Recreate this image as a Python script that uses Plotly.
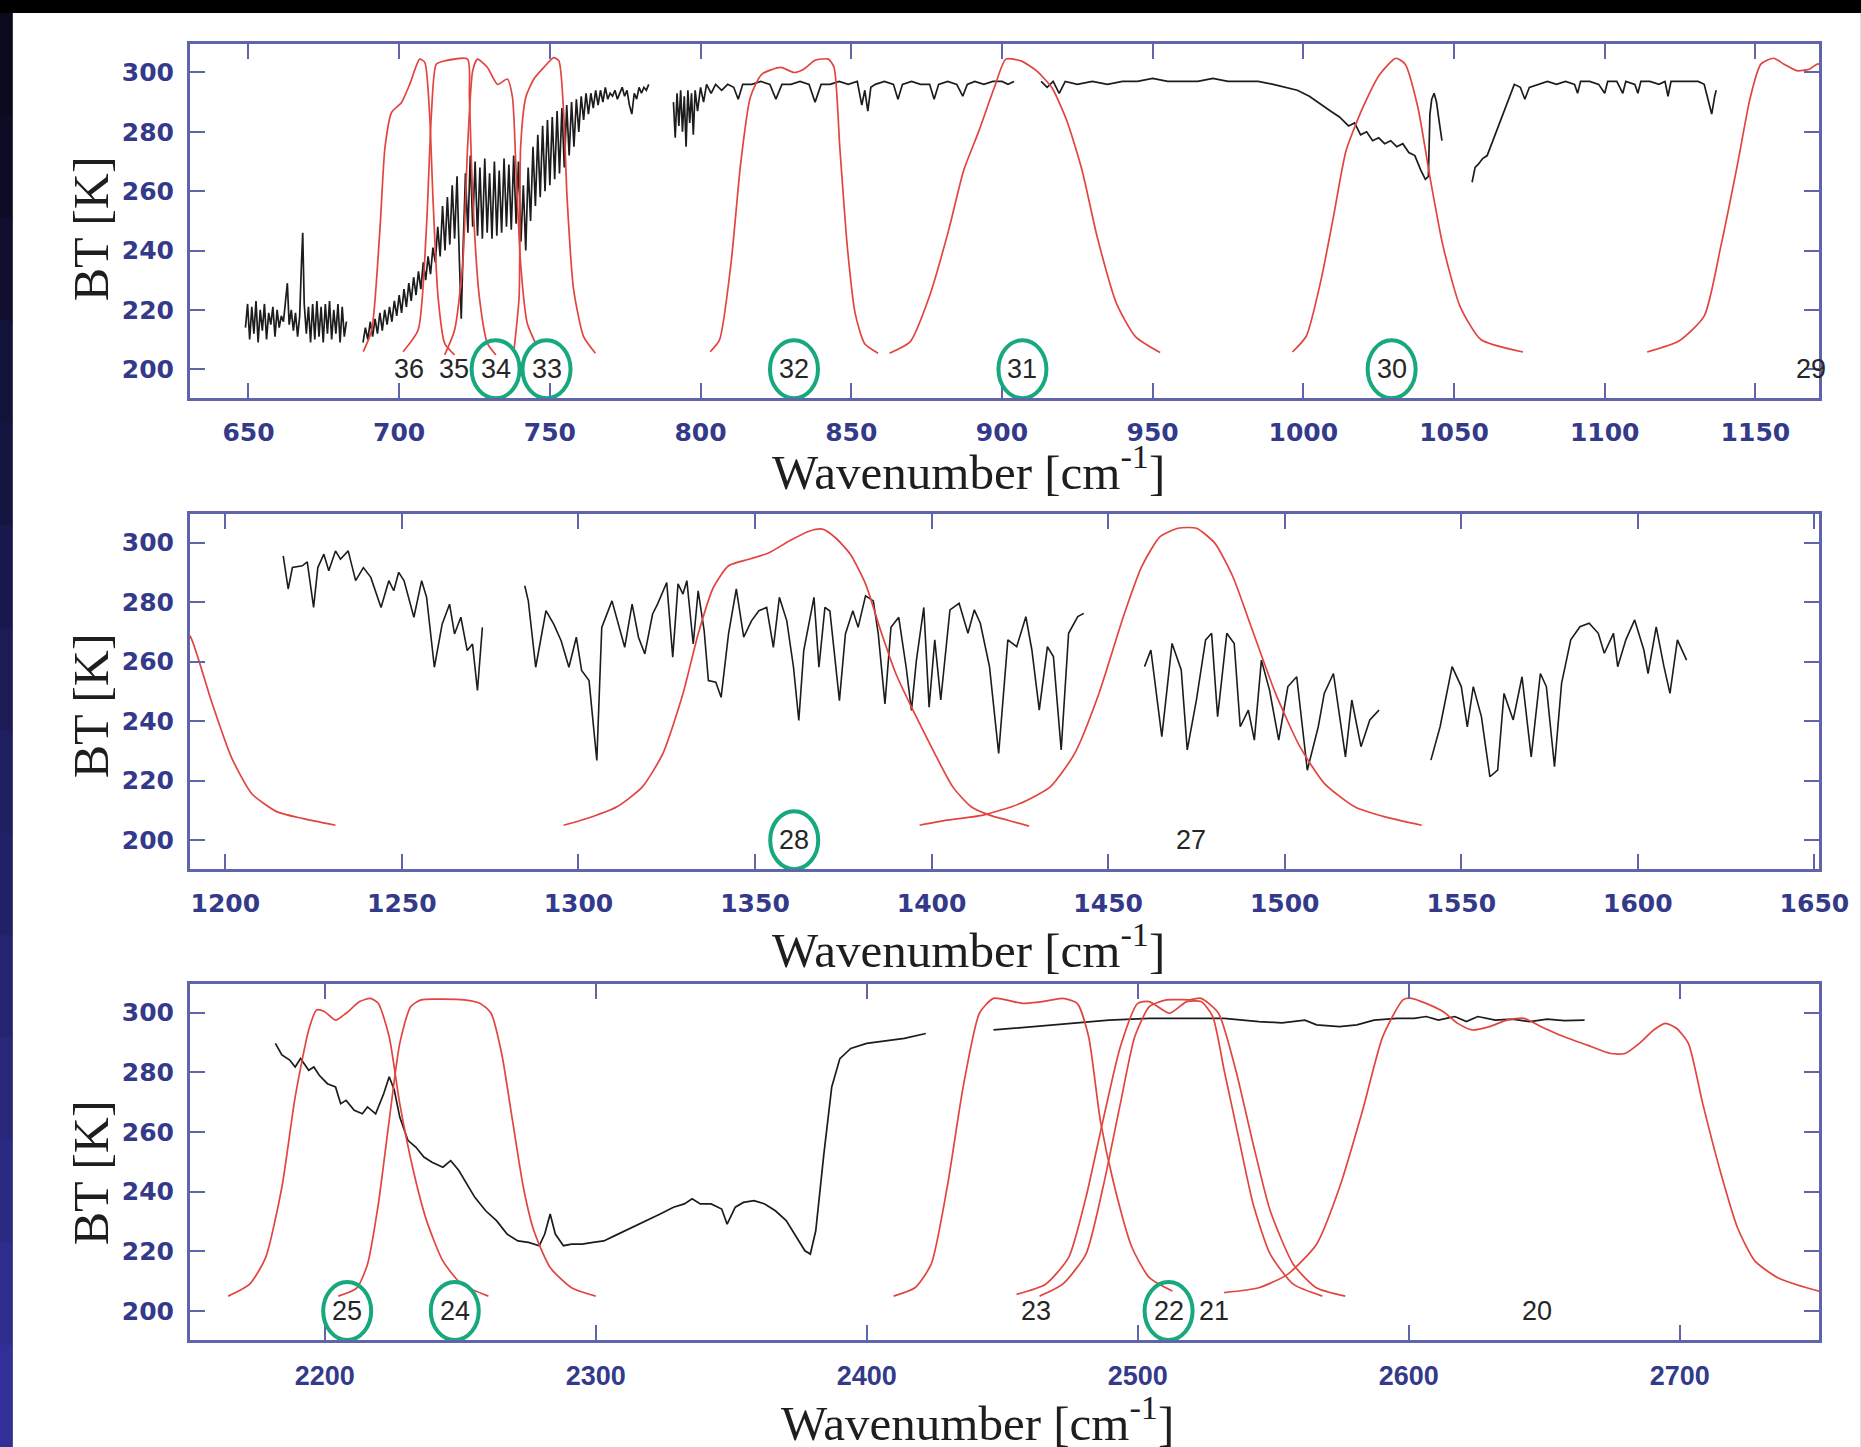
import plotly.graph_objects as go

W, H = 1861, 1447
ML, MR, MT, MB = 190, 37, 44, 107

FRAME = "#5f64ab"
TICKC = "#343a8a"
RED = "#e2453f"
BLACK = "#1c1c1c"
GREEN = "#17a87e"

# ---------------- axis ticks ----------------
P1_XTICKS = [650, 700, 750, 800, 850, 900, 950, 1000, 1050, 1100, 1150]
P2_XTICKS = [1200, 1250, 1300, 1350, 1400, 1450, 1500, 1550, 1600, 1650]
P3_XTICKS = [2200, 2300, 2400, 2500, 2600, 2700]
Y_TICKS = [200, 220, 240, 260, 280, 300]

# ---------------- panel 1 : measured spectrum (black) ----------------
P1_SPEC_A = [(649,214),(649.7,222),(650.4,210),(651.1,221),(651.8,212),(652.5,223),(653.2,209),(653.9,220),
             (654.6,213),(655.3,222),(656,210),(656.7,219),(657.4,215),(658.1,221),(658.8,211),(659.5,220),
             (660.2,214),(660.9,218),(661.6,216),(662.3,222),(662.9,229),(663.5,215),(664.2,220),(664.9,213),
             (665.6,219),(666.3,211),(667,218),(667.6,236),(668,246),(668.5,222),(669.2,212),(669.9,221),
             (670.6,209),(671.3,222),(672,210),(672.7,223),(673.4,211),(674.1,221),(674.8,209),(675.5,222),
             (676.2,212),(676.9,223),(677.6,210),(678.3,220),(679,212),(679.7,222),(680.4,209),(681.1,221),
             (681.8,211),(682.5,216)]
P1_SPEC_B = [(688.0,209),(688.8,214),(689.6,210),(690.4,216),(691.2,211),(692.0,217),(692.8,212),(693.6,219),
             (694.4,213),(695.2,220),(696.0,215),(696.8,221),(697.6,216),(698.4,223),(699.2,218),(700.0,225),
             (700.8,219),(701.6,227),(702.4,221),(703.2,229),(704.0,223),(704.8,231),(705.6,225),(706.4,233),
             (707.2,227),(708.0,236),(708.8,230),(709.6,238),(710.4,232),(711.2,241),(712.0,236),(712.8,248),
             (713.6,238),(714.4,255),(715.2,240),(716.0,258),(716.8,242),(717.6,262),(718.4,244),(719.2,265),
             (720.0,236),(720.6,217),(721.2,240),(722.0,266),(722.8,246),(723.6,272),(724.4,248),(725.2,270),
             (726.0,245),(726.8,268),(727.6,244),(728.4,271),(729.2,246),(730.0,266),(730.8,244),(731.6,270),
             (732.4,245),(733.2,267),(734.0,246),(734.8,271),(735.6,248),(736.4,269),(737.2,247),(738.0,272),
             (738.8,249),(739.6,270),(740.4,243),(741.2,262),(742.0,240),(742.8,268),(743.6,250),(744.4,275),
             (745.2,255),(746.0,279),(746.8,258),(747.6,282),(748.4,260),(749.2,284),(750.0,262),(750.8,285),
             (751.6,264),(752.4,287),(753.2,266),(754.0,288),(754.8,268),(755.6,289),(756.4,272),(757.2,290),
             (758.0,275),(758.8,291),(759.6,280),(760.4,292),(761.2,284),(762.0,293),(762.8,286),(763.6,293),
             (764.4,288),(765.2,294),(766.0,289),(766.8,294),(767.6,290),(768.4,295),(769.2,291),(770.0,293),
             (770.8,292),(771.6,294),(772.4,291),(773.2,293),(774.0,295),(774.8,292),(775.6,294),(776.4,289),
             (777.2,286),(778.0,293),(778.8,291),(779.6,295),(780.4,293),(781.2,295),(782.0,294),(782.8,296)]
P1_SPEC_C = [(791,290),(791.6,278),(792.2,293),(792.8,282),(793.4,294),(794,280),(794.6,292),(795.2,275),
             (795.8,294),(796.4,283),(797,293),(797.6,279),(798.2,294),(799,287),(800,295),(801,290),(802,296),
             (803.5,293),(805,296),(807,294),(809,296),(811,295),(812.5,291),(814,296),(817,296),(820,297),
             (823,296),(825,291),(827,296),(830,296),(833,297),(836,296),(838,290),(840,296),(843,296),
             (846,297),(849,296),(852,297),(853.5,289),(854.5,294),(855.5,287),(856.5,295),(858,296),(861,297),
             (864,296),(865.5,291),(867,296),(870,297),(873,296),(876,296),(877.5,291),(879,296),(882,297),
             (885,296),(887,292),(888.5,296),(891,297),(894,296),(897,297),(900,297),(902,296),(904,297)]
P1_SPEC_D = [(913,297),(915,295),(917,297),(919,293),(921,297),(925,296),(930,297),(935,296),(940,297),
             (945,297),(950,298),(955,297),(960,297),(965,297),(970,298),(975,297),(980,297),(985,297),
             (990,296),(994,295),(998,294),(1002,292),(1006,289),(1009,287),(1012,285),(1015,282),(1017,283),
             (1019,279),(1021,280),(1023,277),(1025,278),(1027,276),(1029,277),(1031,275),(1033,276),(1035,273),
             (1037,272),(1039,267),(1040.5,264),(1041.5,265),(1042,286),(1042.6,291),(1043.4,293),(1044.2,290),
             (1045,284),(1046,277)]
P1_SPEC_E = [(1056,263),(1057,268),(1058,269),(1059.5,271),(1061,272),(1062.5,276),(1064,280),(1065.5,284),
             (1067,288),(1068.5,292),(1070,296),(1072,295),(1073.5,291),(1075,295),(1078,296),(1081,297),
             (1084,296),(1087,297),(1090,296),(1091,293),(1092,297),(1095,297),(1098,296),(1100,293),(1101,297),
             (1104,297),(1106,293),(1107,297),(1110,296),(1111,293),(1112,297),(1115,297),(1118,296),(1120,297),
             (1121,292),(1122,297),(1125,297),(1128,297),(1131,297),(1133,296),(1134.5,290),(1135.5,286),
             (1136.5,292),(1137,294)]

# ---------------- panel 1 : spectral response functions (red) ----------------
P1_SRF_36 = [(688.1,205.9),(690.9,213.2),(693.6,246.8),(695.3,274.8),(697.5,286.6),(700.8,289.9),(703.5,296),
             (706.8,304.5),(708.5,303.4),(710.1,286),(711.2,258),(712.9,224.4),(715.1,208.7),(718.4,204.8)]
P1_SRF_35 = [(701.3,205.9),(706.3,213.2),(709,246.8),(710.7,286),(712.3,302.8),(715.1,303.9),(722.7,304.5),
             (723.3,291.6),(724.4,258),(726.6,224.4),(729.3,208.7),(732.1,204.8)]
P1_SRF_34 = [(715.1,204.8),(718.4,213.2),(721.1,235.6),(722.7,274.8),(724.4,300.6),(726,304.5),(729.3,301.7),
             (732.6,296),(735.9,297.8),(737.6,291.6),(738.7,269.2),(740.3,235.6),(742.5,215.5),(745.3,208.7)]
P1_SRF_33 = [(738.1,206.5),(739.8,224.4),(740.3,274.8),(742,291.6),(744.7,297.8),(748,301.7),(751.3,305),
             (753,303.9),(754.6,286),(755.7,258),(757.9,226.7),(761.2,211),(765.1,205.4)]
P1_SRF_32 = [(803.2,205.9),(806.3,209.9),(810.1,235.6),(813.3,269.2),(816.5,291.6),(820.3,299.4),(826.6,301.7),
             (831,300),(834.2,301.1),(838,304.1),(842.4,304.5),(844.3,301.7),(846.2,274.8),(848.7,241.2),
             (851.3,218.8),(854.4,208.7),(858.9,205.4)]
P1_SRF_31 = [(862.7,205.4),(869.6,209.3),(875.9,224.4),(882.3,246.8),(887.3,267),(892.4,280.4),(897.5,295),
             (901.3,304.5),(906.3,303.9),(911.4,300.6),(916.5,295),(921.5,283.8),(926.6,267),(931.6,244.6),
             (938,222.2),(944.3,211),(952.5,205.6)]
P1_SRF_30 = [(996.4,205.8),(1001,211.2),(1005.9,230.2),(1010,251.4),(1014.2,273.7),(1019.8,288.3),(1025.4,299.4),
             (1030.7,304.8),(1033.8,302.8),(1038,288.3),(1042.2,263.7),(1046.4,241.3),(1052,221.2),(1058.9,210),
             (1072.9,205.8)]
P1_SRF_29 = [(1114.1,205.8),(1124.6,209.5),(1133,217.9),(1138.5,241.3),(1144.1,269.3),(1148.3,291.6),
             (1151.8,302.8),(1156,304.8),(1159.5,302.8),(1163.7,300.6),(1167.9,301.1),(1170.4,302.8),(1172,303)]

# ---------------- panel 2 ----------------
P2_SPEC_A = [(1216.4,295.5),(1217.8,284.4),(1219,291.6),(1221.8,292.2),(1223.2,293.5),(1225,278.2),(1226.2,291.6),
             (1227.9,296.1),(1229.3,290.5),(1231.2,297.2),(1232.6,294.4),(1234.8,297.2),(1236.9,287.2),
             (1239.1,291.6),(1241.2,288.3),(1244.1,278.2),(1246.3,287.2),(1247.7,283.8),(1249.1,290),
             (1250.6,287.2),(1253.4,274.9),(1255.6,287.2),(1257,281.6),(1259.2,258.1),(1261.4,272.6),
             (1263.5,279.3),(1264.9,269.3),(1266.7,274.9),(1268.5,263.7),(1270,265.9),(1271.4,250.3),(1272.8,271.5)]
P2_SPEC_B = [(1284.8,285.5),(1285.8,280.4),(1287.9,258.1),(1290.8,277.1),(1293,272.6),(1295.1,267),(1297.3,258.1),
             (1299.4,268.2),(1300.9,257),(1303,253.6),(1305.2,226.8),(1306.6,271.5),(1309.5,280.4),(1311.6,271.5),
             (1313.1,264.8),(1315.2,279.3),(1317,268.2),(1318.8,262.6),(1321,276),(1322.4,279.3),(1325,286.6),
             (1326.7,261.5),(1328.2,286.1),(1329.6,282.7),(1330.7,287.2),(1332.5,265.9),(1333.9,283.8),
             (1335.6,270.4),(1336.8,253.6),(1338.9,253.1),(1340.4,248),(1342.5,269.3),(1344.7,284.4),
             (1346.8,268.2),(1349,273.7),(1351.1,277.1),(1353.3,278.2),(1355.2,264.8),(1356.9,281.6),
             (1359,273.7),(1360.9,258.1),(1362.4,240.2),(1363.8,263.7),(1366.7,281.6),(1368.1,258.1),
             (1369.8,278.2),(1371.2,277),(1373.9,246.9),(1375.6,269.3),(1377.7,277.1),(1379.2,271.5),
             (1381.3,282.1),(1383.5,280.4),(1384.9,269.3),(1386.8,245.8),(1388.5,271.5),(1390.7,274.9),
             (1392.8,258.1),(1394.3,243.6),(1395.7,260.4),(1397.8,278.2),(1399.3,244.7),(1400.9,267.3),
             (1402.6,247.1),(1405.2,277.4),(1407.8,279.6),(1410.3,269.5),(1412.1,277.4),(1413.8,272.9),
             (1416.4,258.3),(1419,229.1),(1421.6,267.3),(1424.1,265),(1426.7,275.1),(1428.4,263.9),
             (1430.5,243.7),(1432.8,265),(1434.5,261.7),(1436.7,230.3),(1438.8,269.5),(1441.4,275.1),(1443.1,276.2)]
P2_SPEC_C = [(1460.3,258.3),(1462.1,263.9),(1465.2,234.8),(1468.1,266.1),(1470.7,257.2),(1472.4,230.3),
             (1475,247.1),(1477.6,267.3),(1479.3,269.5),(1481,241.5),(1483.6,269.5),(1485.7,266.1),(1487.4,238.1),
             (1489.7,243.7),(1491.4,233.6),(1493.4,260.5),(1495.7,250.4),(1498.3,233.6),(1500.9,251.6),
             (1503.4,254.9),(1506.4,223.5),(1509.5,238.1),(1511.2,249.3),(1513.8,256),(1515.5,242),(1517.2,228),
             (1519,247.1),(1521.6,231.4),(1524.1,240.4),(1526.7,243.7)]
P2_SPEC_D = [(1541.4,226.9),(1544,238.1),(1547.4,258.3),(1550,251.6),(1551.7,238.1),(1553.4,251.6),(1555.7,241.5),
             (1558.1,221.3),(1560.3,223.5),(1562.1,249.3),(1564.7,240.4),(1567.2,254.9),(1569.8,228),(1572.4,256),
             (1574.1,251.6),(1576.4,224.7),(1578.4,252.7),(1581,267.3),(1583.6,271.7),(1586.2,272.9),
             (1588.8,269.5),(1590.5,262.8),(1593.1,269.5),(1594.3,258.3),(1596.6,267.3),(1599.1,274),
             (1601.7,263.9),(1602.9,256),(1605.2,271.7),(1607.4,258.3),(1609.1,249.3),(1611.2,267.3),(1613.8,260.5)]

P2_SRF_29 = [(1188,271),(1190.2,268.2),(1196,246.9),(1201.7,227.9),(1207.5,215.6),(1214.7,209.5),(1221.8,207.3),
             (1231.2,205)]
P2_SRF_28 = [(1295.8,205),(1303.7,207.8),(1310.9,211.2),(1318.1,217.9),(1323.9,229.1),(1329.6,249.2),
             (1333.9,269.3),(1338.2,284.9),(1342.5,292.2),(1348.3,294.4),(1354,296.6),(1359.8,300.6),
             (1365.5,303.9),(1369.1,304.5),(1372.7,301.7),(1377,296.1),(1381.3,286.1),(1385.6,270.4),
             (1389.9,255.9),(1394.3,244.7),(1400.9,229.1),(1406,217.9),(1411.2,211.2),(1416.4,208.4),
             (1421.6,206.7),(1427.6,204.7)]
P2_SRF_27 = [(1396.6,205),(1404.3,206.7),(1414.7,208.4),(1425,212.3),(1433.6,217.9),(1440.5,229.1),(1447.4,249.3),
             (1454.3,275.1),(1459.5,291.9),(1464.7,302),(1469.8,304.8),(1475,304.8),(1480.2,299.8),(1485.3,288.6),
             (1490.5,271.7),(1497.4,249.3),(1504.3,231.4),(1511.2,219.1),(1519.8,211.2),(1528.4,207.8),(1538.8,205)]

# ---------------- panel 3 ----------------
P3_SPEC_A = [(2181.8,289.7),(2184.2,285.8),(2187.1,284.1),(2189.1,281.8),(2191.1,284.6),(2194.1,280.7),
             (2196,281.8),(2198,279),(2201,276.2),(2204,275.1),(2205.9,269.5),(2207.9,270.6),(2210.9,267.3),
             (2213.9,266.1),(2215.8,268.4),(2218.8,266.1),(2221.8,272.9),(2223.8,278.5),(2225.7,274),
             (2227.7,265),(2230.7,257.2),(2233.7,254.9),(2236.6,251.6),(2239.6,249.9),(2243.6,248.2),
             (2246.5,250.4),(2249.5,247.1),(2252.5,242.6),(2255.4,238.1),(2259.4,233.6),(2263.4,230.3),
             (2267.3,225.8),(2271.3,223.5),(2275.2,223),(2279.2,221.9),(2281.2,225.8),(2283.2,232.5),
             (2285.1,225.8),(2288.1,221.9),(2291.1,222.4),(2295,222.4),(2299,223),(2303,223.5),(2306.9,225.2),
             (2310.9,226.9),(2314.9,228.6),(2318.8,230.3),(2323.8,232.5),(2328.7,234.8),(2332.7,235.9),
             (2335.6,237.6),(2338.6,235.9),(2342.6,235.9),(2346.5,234.2),(2348.5,229.1),(2351.5,234.8),
             (2354.5,236.4),(2358.4,237),(2362.4,235.9),(2366.3,233.6),(2370.3,230.3),(2374.3,224.7),
             (2377.2,220.2),(2379.2,219.1),(2381.2,226.9),(2384.2,252.7),(2387.1,275.1),(2390.1,284.6),
             (2394.1,288),(2400,289.7),(2407.9,290.8),(2413.9,291.4),(2421.8,293)]
P3_SPEC_B = [(2446.8,294.2),(2461.7,295.3),(2476.6,296.4),(2489.4,297.5),(2504.3,298.1),(2519.1,298.1),
             (2531.9,298.1),(2544.7,297),(2553.2,296.6),(2561.7,297.5),(2566,295.9),(2574.5,295.3),(2580.9,295.9),
             (2587.2,297.5),(2595.7,298.1),(2602.1,298.1),(2606.4,298.7),(2611,297.5),(2617,298.7),(2621.3,297),
             (2625.5,298.7),(2631.9,297.5),(2638.3,297.8),(2644.7,297),(2651.1,297.8),(2657.4,297.3),(2664.9,297.5)]

P3_SRF_25 = [(2164.4,205),(2172.3,209),(2178.2,217.9),(2184.2,241.5),(2189.1,271.7),(2194.1,294.2),(2197,300.9),
             (2200,300.3),(2204,297.5),(2207.9,299.8),(2212.9,303.7),(2216.8,304.8),(2219.8,303.1),(2223.8,291.9),
             (2227.7,269.5),(2232.7,247.1),(2237.6,230.3),(2243.6,216.8),(2250.5,209),(2260.4,205)]
P3_SRF_24 = [(2205,205),(2211.9,207.8),(2215.8,215.7),(2219.8,235.9),(2223.8,263.9),(2227.7,289.7),(2231.7,302),
             (2235.6,304.3),(2243.6,304.5),(2251.5,304.3),(2257.4,303.1),(2261.4,299.8),(2265.3,286.3),
             (2269.3,263.9),(2273.3,241.5),(2277.2,226.9),(2283.2,214.6),(2291.1,207.8),(2300,205)]
P3_SRF_23 = [(2409.9,205),(2417.8,207.8),(2423.8,215.7),(2429.7,241.5),(2435.6,275.1),(2441.6,299.8),
             (2446.8,304.8),(2457.4,303.1),(2464.9,303.7),(2472.3,304.8),(2477.7,303.1),(2481.9,291.9),
             (2486.2,263.9),(2491.5,241.5),(2497.9,221.3),(2504.3,211.2),(2512.8,206.7)]
P3_SRF_22 = [(2455.3,205.6),(2466,209),(2474.5,217.9),(2480.9,238.1),(2487.2,263.9),(2493.6,288.6),(2500,303.1),
             (2504.3,303.7),(2511.7,299.8),(2518.1,303.7),(2523.4,303.7),(2527.7,298.7),(2531.9,280.7),
             (2537.2,258.3),(2542.6,235.9),(2548.9,219.1),(2557.4,209),(2568.1,205)]
P3_SRF_21 = [(2463.8,205),(2472.3,209),(2480.9,219.1),(2487.2,241.5),(2493.6,269.5),(2498.9,291.9),(2504.3,302),
             (2510.6,304.3),(2519.1,304.3),(2523.4,304.8),(2529.8,299.8),(2536.2,280.7),(2542.6,256),
             (2548.9,233.6),(2557.4,215.7),(2565.9,207.8),(2576.6,205)]
P3_SRF_20 = [(2531.9,206.2),(2544.7,207.8),(2555.3,212.3),(2566,222.4),(2574.5,241.5),(2583,267.3),(2590.4,291.9),
             (2597.9,304.3),(2601.1,304.8),(2606.4,303.1),(2612.8,300.3),(2618.1,296.4),(2623.4,294.2),
             (2629.8,295.3),(2636.2,297.5),(2642.6,298.1),(2648.9,295.3),(2657.4,291.9),(2665.9,289.1),
             (2674.5,286.3),(2679.8,286.3),(2685.1,289.7),(2690.4,294.2),(2694.7,296.4),(2698.9,294.7),
             (2703.2,289.7),(2708.5,269.5),(2714.9,247.1),(2721.3,228),(2727.7,216.8),(2736.2,211.2),
             (2746.8,207.8),(2752,206.5)]

# band labels: (panel, wavenumber, label, circled)
BAND_LABELS = [
    (1, 703.4, "36", False), (1, 718.3, "35", False), (1, 732.0, "34", True), (1, 748.9, "33", True),
    (1, 831.0, "32", True), (1, 906.8, "31", True), (1, 1029.3, "30", True), (1, 1168.4, "29", False),
    (2, 1361.1, "28", True), (2, 1473.6, "27", False),
    (3, 2208.3, "25", True), (3, 2248.0, "24", True), (3, 2462.4, "23", False), (3, 2511.4, "22", True),
    (3, 2528.0, "21", False), (3, 2647.2, "20", False),
]
LABEL_Y = 200

fig = go.Figure()
AX = {1: ("x", "y"), 2: ("x2", "y2"), 3: ("x3", "y3")}


def add_series(pts, panel, color, width, spline=False):
    xa, ya = AX[panel]
    fig.add_trace(go.Scatter(
        x=[p[0] for p in pts], y=[p[1] for p in pts], mode="lines", xaxis=xa, yaxis=ya,
        line=dict(color=color, width=width, shape="spline" if spline else "linear", smoothing=0.6),
        hoverinfo="skip", showlegend=False))


for s in [P1_SPEC_A, P1_SPEC_B, P1_SPEC_C, P1_SPEC_D, P1_SPEC_E]:
    add_series(s, 1, BLACK, 1.7)
for s in [P1_SRF_36, P1_SRF_35, P1_SRF_34, P1_SRF_33, P1_SRF_32, P1_SRF_31, P1_SRF_30, P1_SRF_29]:
    add_series(s, 1, RED, 1.7, spline=True)
for s in [P2_SPEC_A, P2_SPEC_B, P2_SPEC_C, P2_SPEC_D]:
    add_series(s, 2, BLACK, 1.6)
for s in [P2_SRF_29, P2_SRF_28, P2_SRF_27]:
    add_series(s, 2, RED, 1.7, spline=True)
for s in [P3_SPEC_A, P3_SPEC_B]:
    add_series(s, 3, BLACK, 1.7)
for s in [P3_SRF_25, P3_SRF_24, P3_SRF_23, P3_SRF_22, P3_SRF_21, P3_SRF_20]:
    add_series(s, 3, RED, 1.7, spline=True)

plot_w = W - ML - MR
plot_h = H - MT - MB


def px_to_paper_x(px):
    return (px - ML) / plot_w


def px_to_paper_y(py):
    return (H - MB - py) / plot_h


shapes = []
# white page with black band on top and dark strip on the left
shapes.append(dict(type="rect", xref="paper", yref="paper", layer="below",
                   x0=px_to_paper_x(12), x1=px_to_paper_x(W + 5), y0=px_to_paper_y(H + 5), y1=px_to_paper_y(13),
                   fillcolor="white", line=dict(width=0)))
n_strip = 14
for i in range(n_strip):
    t = i / (n_strip - 1)
    r = int(10 + t * 40)
    g = int(10 + t * 38)
    b = int(30 + t * 120)
    y_top = 13 + i * (H - 13) / n_strip
    y_bot = 13 + (i + 1) * (H - 13) / n_strip + 1
    shapes.append(dict(type="rect", xref="paper", yref="paper", layer="below",
                       x0=px_to_paper_x(-2), x1=px_to_paper_x(12), y0=px_to_paper_y(y_bot), y1=px_to_paper_y(y_top),
                       fillcolor=f"rgb({r},{g},{b})", line=dict(width=0)))

annotations = []
for panel, wx, txt, circled in BAND_LABELS:
    xa, ya = AX[panel]
    annotations.append(dict(x=wx, y=LABEL_Y, xref=xa, yref=ya, text=txt, showarrow=False,
                            font=dict(family="Liberation Sans, Arial, sans-serif", size=27, color="#262626")))
    if circled:
        shapes.append(dict(type="circle", xref=xa, yref=ya, xsizemode="pixel", ysizemode="pixel",
                           xanchor=wx, yanchor=LABEL_Y, x0=-24, x1=24, y0=-29, y1=29,
                           line=dict(color=GREEN, width=4), layer="above"))

TITLE_FONT = dict(family="Liberation Serif, Times New Roman, serif", size=49, color="#1e1e1e")
for py, pxc in [(469, 971), (946, 971), (1419, 980)]:
    annotations.append(dict(x=px_to_paper_x(pxc), y=px_to_paper_y(py), xref="paper", yref="paper",
                            text="Wavenumber [cm<sup>-1</sup>]", showarrow=False, font=TITLE_FONT,
                            xanchor="center", yanchor="middle"))
for py in [229, 706, 1173]:
    annotations.append(dict(x=px_to_paper_x(91), y=px_to_paper_y(py), xref="paper", yref="paper",
                            text="BT [K]", showarrow=False, font=dict(TITLE_FONT, size=50), textangle=-90,
                            xanchor="center", yanchor="middle"))

axis_common = dict(showline=True, linecolor=FRAME, linewidth=3, mirror="ticks", ticks="inside", ticklen=15,
                   tickwidth=2, tickcolor=FRAME, showgrid=False, zeroline=False, fixedrange=True)
tick_font_wide = dict(family="DejaVu Sans, Arial, sans-serif", size=25, color=TICKC, weight="bold")
tick_font_narrow = dict(family="Liberation Sans Narrow, Arial Narrow, Liberation Sans, sans-serif", size=27,
                        color=TICKC, weight="bold")

d1 = [px_to_paper_y(398), px_to_paper_y(44)]
d2 = [px_to_paper_y(869), px_to_paper_y(514)]
d3 = [px_to_paper_y(1340), px_to_paper_y(984)]

fig.update_layout(
    width=W, height=H,
    margin=dict(l=ML, r=MR, t=MT, b=MB),
    paper_bgcolor="#000000",
    plot_bgcolor="rgba(0,0,0,0)",
    showlegend=False,
    shapes=shapes,
    annotations=annotations,
    xaxis=dict(axis_common, domain=[0, 1], anchor="y", range=[630.6, 1171.1], tickvals=P1_XTICKS,
               tickfont=tick_font_wide, ticklabelstandoff=10),
    yaxis=dict(axis_common, domain=d1, anchor="x", range=[190.3, 309.6], tickvals=Y_TICKS,
               tickfont=tick_font_wide, ticklabelstandoff=8),
    xaxis2=dict(axis_common, domain=[0, 1], anchor="y2", range=[1190, 1651.3], tickvals=P2_XTICKS,
                tickfont=tick_font_wide, ticklabelstandoff=10),
    yaxis2=dict(axis_common, domain=d2, anchor="x2", range=[190.3, 309.6], tickvals=Y_TICKS,
                tickfont=tick_font_wide, ticklabelstandoff=8),
    xaxis3=dict(axis_common, domain=[0, 1], anchor="y3", range=[2150.3, 2751.4], tickvals=P3_XTICKS,
                tickfont=tick_font_narrow, ticklabelstandoff=10),
    yaxis3=dict(axis_common, domain=d3, anchor="x3", range=[190.3, 309.6], tickvals=Y_TICKS,
                tickfont=tick_font_wide, ticklabelstandoff=8),
)

fig.write_html("out.html",
               config={"displayModeBar": False},
               post_script="document.body.style.margin='0px';document.body.style.padding='0px';"
                           "document.body.style.overflow='hidden';document.body.style.background='#000';")
